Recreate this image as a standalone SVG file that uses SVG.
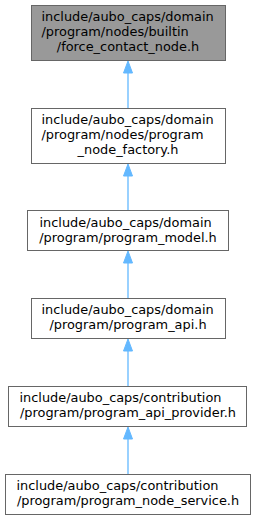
<svg xmlns="http://www.w3.org/2000/svg" width="256" height="520" viewBox="0 0 256 520">
<defs>
<style>
.box{fill:#ffffff;stroke:#666666;stroke-width:1}
.cur{fill:#999999;stroke:#666666;stroke-width:1}
text{font-family:"DejaVu Sans",sans-serif;font-size:12.9px;fill:#000000}
.m{text-anchor:middle}
.edge{stroke:#63b8ff;stroke-width:1.3;fill:none}
.ah{fill:#63b8ff;stroke:#63b8ff;stroke-width:1}
</style>
</defs>
<rect width="256" height="520" fill="#ffffff"/>
<g id="edges">
<line class="edge" x1="128" y1="73" x2="128" y2="108.5"/>
<polygon class="ah" points="128,61 123.5,73 132.5,73"/>
<line class="edge" x1="128" y1="176" x2="128" y2="210.5"/>
<polygon class="ah" points="128,164 123.5,176 132.5,176"/>
<line class="edge" x1="128" y1="263" x2="128" y2="298.5"/>
<polygon class="ah" points="128,251 123.5,263 132.5,263"/>
<line class="edge" x1="128" y1="351" x2="128" y2="386.5"/>
<polygon class="ah" points="128,339 123.5,351 132.5,351"/>
<line class="edge" x1="128" y1="439" x2="128" y2="474.5"/>
<polygon class="ah" points="128,427 123.5,439 132.5,439"/>
</g>
<g id="node1">
<rect class="cur" x="31.5" y="5.5" width="194" height="55"/>
<text x="41.5" y="20.5">include/aubo_caps/domain</text>
<text x="41.5" y="35.5">/program/nodes/builtin</text>
<text class="m" x="128" y="50.5">/force_contact_node.h</text>
</g>
<g id="node2">
<rect class="box" x="31.5" y="108.5" width="194" height="55"/>
<text x="41.5" y="123.5">include/aubo_caps/domain</text>
<text x="41.5" y="138.5">/program/nodes/program</text>
<text class="m" x="128" y="153.5">_node_factory.h</text>
</g>
<g id="node3">
<rect class="box" x="27.5" y="210.5" width="201" height="40"/>
<text x="39.5" y="226.5">include/aubo_caps/domain</text>
<text class="m" x="128" y="241.5">/program/program_model.h</text>
</g>
<g id="node4">
<rect class="box" x="31.5" y="298.5" width="194" height="40"/>
<text x="41.5" y="313.5">include/aubo_caps/domain</text>
<text class="m" x="128" y="328.5">/program/program_api.h</text>
</g>
<g id="node5">
<rect class="box" x="8.5" y="386.5" width="238" height="40"/>
<text x="19.5" y="402">include/aubo_caps/contribution</text>
<text class="m" x="128" y="417">/program/program_api_provider.h</text>
</g>
<g id="node6">
<rect class="box" x="5.5" y="474.5" width="245" height="40"/>
<text x="16.5" y="490">include/aubo_caps/contribution</text>
<text class="m" x="128" y="505">/program/program_node_service.h</text>
</g>
</svg>
